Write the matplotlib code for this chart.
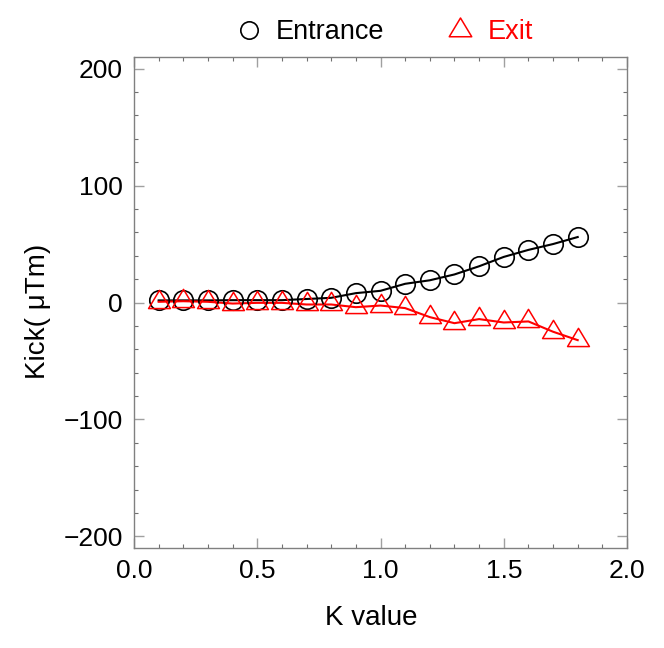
import numpy as np
import matplotlib
matplotlib.use("Agg")
import matplotlib.pyplot as plt
from matplotlib.path import Path
from matplotlib.lines import Line2D
from matplotlib.ticker import MultipleLocator

plt.rcParams['font.family'] = ['Liberation Sans', 'DejaVu Sans']

k_values = [0.1, 0.2, 0.3, 0.4, 0.5, 0.6, 0.7, 0.8, 0.9, 1.0,
            1.1, 1.2, 1.3, 1.4, 1.5, 1.6, 1.7, 1.8]
entrance = [1.8, 1.8, 1.8, 2.0, 2.0, 2.0, 3.0, 4.0, 8.0, 10.0,
            16.0, 19.0, 24.0, 31.0, 39.0, 45.0, 50.0, 56.0]
exit_ = [0.6, 1.1, 0.6, -0.9, -0.3, -0.3, -1.7, -1.7, -4.0, -2.6,
         -4.8, -12.5, -17.7, -14.2, -17.1, -16.2, -25.0, -32.2]

tri = Path([(0, 1), (-0.9, -0.5), (0.9, -0.5), (0, 1)],
           [Path.MOVETO, Path.LINETO, Path.LINETO, Path.CLOSEPOLY])

fig = plt.figure(figsize=(6.64, 6.48), dpi=100)
ax = fig.add_axes([134/664, 1-548/648, (627-134)/664, (548-57)/648])

ax.plot(k_values, entrance, color='black', lw=1.5, zorder=2)
ax.plot(k_values, entrance, ls='none', marker='o', ms=14, mfc='none',
        mec='black', mew=1.2, zorder=3)
ax.plot(k_values, exit_, color='red', lw=1.5, zorder=2)
ax.plot(k_values, exit_, ls='none', marker=tri, ms=17.5, mfc='none',
        mec='red', mew=1.1, zorder=3)

ax.set_xlim(0, 2.0)
ax.set_ylim(-210, 210)
ax.xaxis.set_major_locator(MultipleLocator(0.5))
ax.xaxis.set_minor_locator(MultipleLocator(0.1))
ax.yaxis.set_major_locator(MultipleLocator(100))
ax.yaxis.set_minor_locator(MultipleLocator(20))
ax.xaxis.set_major_formatter(matplotlib.ticker.FormatStrFormatter('%.1f'))

for s in ax.spines.values():
    s.set_color('#808080')
    s.set_linewidth(1.0)
ax.tick_params(which='both', direction='in', top=True, right=True)
ax.tick_params(which='major', length=7, width=1.0, color='#a0a0a0',
               labelsize=19, pad=8)
ax.tick_params(which='minor', length=3, width=0.8, color='#707070')

ax.set_xlabel('K value', fontsize=20, labelpad=16)
ax.set_ylabel('Kick( μTm)', fontsize=20, labelpad=9)
ax.xaxis.label.set_x(0.482)
ax.yaxis.label.set_y(0.482)

handles = [
    Line2D([], [], ls='none', marker='o', ms=12.5, mfc='none', mec='black', mew=1.2),
    Line2D([], [], ls='none', marker=tri, ms=18, mfc='none', mec='red', mew=1.1),
]
leg = fig.legend(handles, ['Entrance', 'Exit'], loc='center',
                 bbox_to_anchor=(384/664, 1-32/648), ncol=2, frameon=False,
                 fontsize=19.5, handlelength=1.0, handletextpad=0.5,
                 columnspacing=2.3)
leg.get_texts()[1].set_color('red')

fig.savefig('out.png', dpi=100)
